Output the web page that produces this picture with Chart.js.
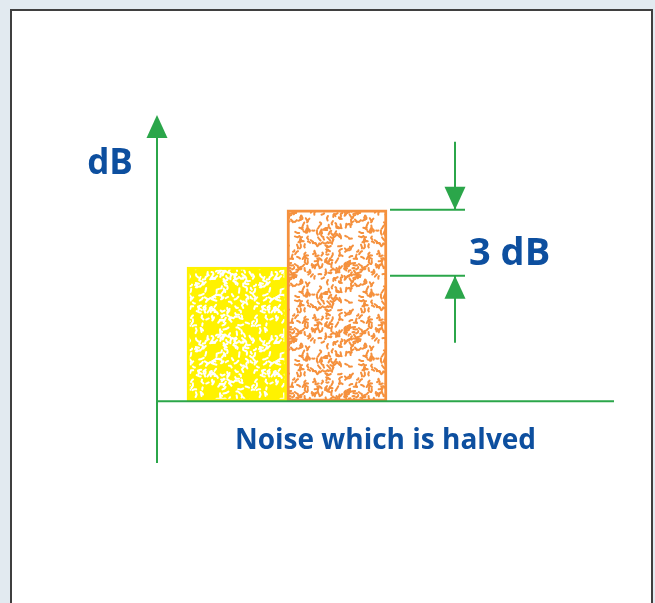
<!DOCTYPE html>
<html>
<head>
<meta charset="utf-8">
<script src="https://cdn.jsdelivr.net/npm/chart.js@4.4.1/dist/chart.umd.min.js"></script>
<style>
  html, body { margin: 0; padding: 0; background: #e2eaf0; overflow: hidden; }
  #panel { position: absolute; left: 10px; top: 9px; width: 639px; height: 600px; background: #fff; border: 2px solid #3f3f3f; }
  #chart { position: absolute; left: 0; top: 0; }
</style>
</head>
<body>
<div id="panel"></div>
<canvas id="chart" width="655" height="603"></canvas>
<script>
// Noise levels in dB above the baseline, and the step marked between them
const categories = ['Halved noise', 'Original noise'];
const slots = [1, 2];
const levels = [6.1, 8.7];
const stepDb = 3;
const axisTitle = 'dB';
const stepLabel = stepDb + ' dB';
const caption = 'Noise which is halved';

const GREEN = '#2ba64a';
const BLUE = '#0d4f9f';
const YELLOW = '#fff200';
const ORANGE = '#f5913e';

// speckled fill: short wiggly strokes on a base colour, seeded so it looks the same every time
function speckle(base, fleck, count, seed) {
  const size = 64;
  const c = document.createElement('canvas');
  c.width = c.height = size;
  const g = c.getContext('2d');
  g.fillStyle = base;
  g.fillRect(0, 0, size, size);
  g.strokeStyle = fleck;
  g.lineWidth = 2;
  g.lineCap = 'round';
  g.lineJoin = 'round';
  let s = seed;
  const rnd = () => (s = (s * 16807) % 2147483647) / 2147483647;
  for (let i = 0; i < count; i++) {
    const x0 = rnd() * size, y0 = rnd() * size, a0 = rnd() * Math.PI * 2;
    const steps = [];
    for (let k = 0; k < 2; k++) steps.push([1 + rnd() * 2, (rnd() - 0.5) * 2.4]);
    // draw wrapped copies so strokes continue across tile edges
    for (const dx of [-size, 0, size]) {
      for (const dy of [-size, 0, size]) {
        let x = x0 + dx, y = y0 + dy, ang = a0;
        g.beginPath();
        g.moveTo(x, y);
        for (const [len, turn] of steps) {
          x += Math.cos(ang) * len;
          y += Math.sin(ang) * len;
          g.lineTo(x, y);
          ang += turn;
        }
        g.stroke();
      }
    }
  }
  return g.createPattern(c, 'repeat');
}

function line(ctx, x1, y1, x2, y2) {
  ctx.beginPath();
  ctx.moveTo(x1, y1);
  ctx.lineTo(x2, y2);
  ctx.stroke();
}

// triangle with its tip at (x, tipY); dir = -1 points up, 1 points down
function head(ctx, x, tipY, dir) {
  const len = 23, half = 10.5;
  ctx.beginPath();
  ctx.moveTo(x, tipY);
  ctx.lineTo(x - half, tipY - dir * len);
  ctx.lineTo(x + half, tipY - dir * len);
  ctx.closePath();
  ctx.fill();
}

const diagram = {
  id: 'diagram',
  afterDraw(chart) {
    const { ctx, chartArea: a } = chart;
    const y = chart.scales.y;
    const bars = chart.getDatasetMeta(0).data;
    ctx.save();
    ctx.strokeStyle = GREEN;
    ctx.fillStyle = GREEN;
    ctx.lineWidth = 2;

    // axes, the vertical one with an arrow on top
    const y0 = y.getPixelForValue(0);
    line(ctx, a.left, a.top + 20, a.left, a.bottom);
    line(ctx, a.left, y0, a.right, y0);
    head(ctx, a.left, a.top, -1);

    // 3 dB step beside the taller bar
    const hi = y.getPixelForValue(levels[1]);
    const lo = y.getPixelForValue(levels[1] - stepDb);
    const x1 = bars[1].x + bars[1].width / 2 + 3;
    const xm = x1 + 65;
    line(ctx, x1, hi, x1 + 75, hi);
    line(ctx, x1, lo, x1 + 75, lo);
    line(ctx, xm, hi - 68, xm, hi);
    head(ctx, xm, hi, 1);
    line(ctx, xm, lo, xm, lo + 67);
    head(ctx, xm, lo, -1);

    ctx.fillStyle = BLUE;
    ctx.textBaseline = 'alphabetic';
    ctx.textAlign = 'left';
    ctx.font = 'bold 38px "Open Sans"';
    ctx.fillText(stepLabel, xm + 14, (hi + lo) / 2 + 22);

    ctx.textAlign = 'center';
    ctx.font = 'bold 35px "Open Sans"';
    ctx.fillText(axisTitle, a.left - 47, a.top + 59);

    ctx.font = 'bold 28px "Open Sans"';
    ctx.fillText(caption, (a.left + a.right) / 2, y0 + 48);
    ctx.restore();
  }
};

function draw() {
  new Chart(document.getElementById('chart'), {
    type: 'bar',
    data: {
      datasets: [{
        label: 'Noise level',
        data: slots.map((x, i) => ({ x, y: levels[i] })),
        backgroundColor: [speckle(YELLOW, '#ffffff', 140, 11), speckle('#ffffff', ORANGE, 170, 29)],
        borderColor: [YELLOW, ORANGE],
        borderWidth: 3,
        borderSkipped: false,
        barThickness: 100,
        grouped: false
      }]
    },
    options: {
      responsive: false,
      animation: false,
      layout: { padding: { left: 157, right: 41, top: 115, bottom: 140 } },
      scales: {
        x: { type: 'linear', min: 0.2, max: 4.77, offset: false, display: false },
        y: { min: -2.8, max: 13, display: false }
      },
      plugins: { legend: { display: false }, tooltip: { enabled: false } }
    },
    plugins: [diagram]
  });
}

Promise.all([
  document.fonts.load('bold 38px "Open Sans"')
]).then(draw, draw);
</script>
</body>
</html>
